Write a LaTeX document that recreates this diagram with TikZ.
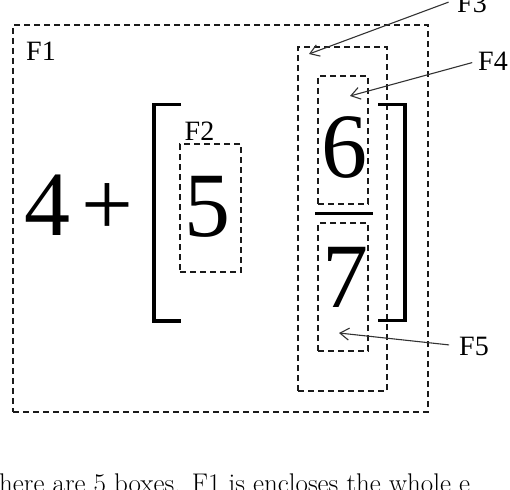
\documentclass[tikz,border=0pt]{standalone}
\usepackage{fontspec}
\newfontfamily\timesf{Liberation Serif}[Scale=1.0]
\usetikzlibrary{arrows.meta}
\definecolor{inkline}{HTML}{1A1A1A}
\definecolor{ptrgray}{HTML}{333333}
\tikzset{
  frame/.style ={draw=inkline,dash pattern=on 6pt off 4pt,line width=1.2pt,
                 inner sep=0pt},
  lbl/.style   ={inner sep=0pt,font=\fontsize{28}{28}\timesf\selectfont},
  digit/.style ={inner sep=0pt,anchor=base,font=\fontsize{92}{92}\timesf\selectfont},
  brk/.style   ={line width=3.6pt,draw=black},
  ptr/.style   ={-{Straight Barb[length=9pt,width=12pt]},line width=1.1pt,draw=ptrgray}
}

\begin{document}
\begin{tikzpicture}[x=1pt,y=-1pt]
  \useasboundingbox (0,0) rectangle (510,489);
  \clip (0,0) rectangle (510,489);
  % dashed boxes
  \node[frame,minimum width=415pt,minimum height=387pt] (F1) at (220.5,218.5) {};
  \node[frame,minimum width=61pt,minimum height=128pt] (F2) at (210.5,208) {};
  \node[frame,minimum width=89pt,minimum height=344pt] (F3) at (342.5,219) {};
  \node[frame,minimum width=50pt,minimum height=128pt] (F4) at (343,140) {};
  \node[frame,minimum width=50pt,minimum height=128pt] (F5) at (343,287) {};
  % expression
  \node[digit] (four) at (47,235) {4};
  \node[digit] (plus) at (107,235) {+};
  \node[digit] (five) at (207.5,236) {5};
  \node[digit] (six) at (344,177) {6};
  \node[digit] (seven) at (345,307) {7};
  \draw[brk] (181,104.5) -- (154,104.5) -- (154,321) -- (181,321);
  \draw[brk] (378,104.5) -- (405,104.5) -- (405,320.5) -- (378,320.5);
  \draw[line width=3pt] (315,213) -- (373,213);
  % labels
  \node[lbl] (lF1) at (41,51) {F1};
  \node[lbl] (lF2) at (199.5,131) {F2};
  \node[lbl] (lF3) at (472,3) {F3};
  \node[lbl] (lF4) at (493,61) {F4};
  \node[lbl] (lF5) at (474,346) {F5};
  \coordinate (t3) at (309,54);
  \coordinate (t4) at (350,96);
  \coordinate (t5) at (339,333);
  \draw[ptr,shorten <=9pt] (lF3.165) -- (t3);
  \draw[ptr,shorten <=6pt] (lF4.west) -- (t4);
  \draw[ptr,shorten <=10pt] (lF5.west) -- (t5);
  % caption line below
  \node[anchor=base west,inner sep=0pt,font=\fontsize{27}{30}\selectfont] (cap)
    at (-1,492) {here are 5 boxes. F1 is encloses the whole e};
\end{tikzpicture}
\end{document}
